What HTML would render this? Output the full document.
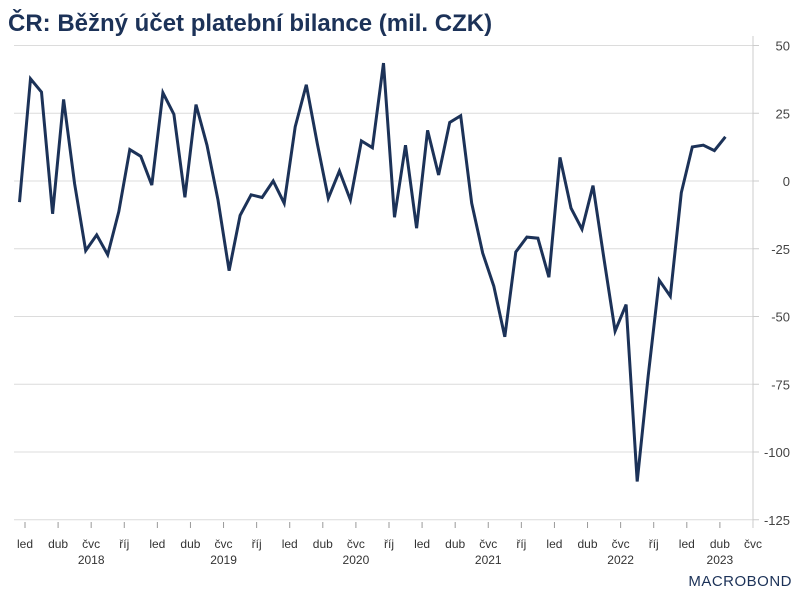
<!DOCTYPE html>
<html><head><meta charset="utf-8"><style>
body{margin:0;background:#fff;width:800px;height:600px;overflow:hidden;font-family:"Liberation Sans",sans-serif}
</style></head><body>
<svg width="800" height="600">
<text x="8" y="31" font-size="24" font-weight="bold" fill="#1c3258">ČR: Běžný účet platební bilance (mil. CZK)</text>
<g id="grid"></g><g id="xaxis"></g><g id="yaxis"></g>
<polyline id="line" fill="none" stroke="#1c3258" stroke-width="3" stroke-linejoin="miter"/>
<text x="792" y="586" font-size="15" fill="#1c3258" text-anchor="end" letter-spacing="0.5">MACROBOND</text>
</svg>
<script>
const values=[-7.8,37.7,32.8,-12.1,30.1,-1,-25.7,-19.9,-27.2,-11.3,11.6,9.1,-1.5,32.6,24.6,-6,28.2,13.2,-7,-33.1,-12.7,-5.1,-6.1,0,-8.2,20,35.5,13.8,-6.4,3.7,-7,14.8,12.3,43.5,-13.4,13.2,-17.4,18.7,2.2,21.6,24.1,-8.2,-26.6,-38.8,-57.5,-26.2,-20.7,-21.1,-35.5,8.7,-10,-17.8,-1.7,-29,-55.4,-45.6,-110.9,-71.9,-36.6,-42.5,-4.3,12.6,13.2,11.2,16.3];
const yTicks=[50,25,0,-25,-50,-75,-100,-125];
const monthLabels=["led","dub","čvc","říj"];
const years=["2018","2019","2020","2021","2022","2023"];
const yearCenters=[6,18,30,42,54,63];
const NS="http://www.w3.org/2000/svg";
const x0=25,mw=11.03;
function xPt(i){return x0+(i-0.5)*mw;}
function xTick(m){return x0+m*mw;}
function y(v){return 181-v*2.71;}
function mk(t,a,p,txt){const e=document.createElementNS(NS,t);for(const k in a)e.setAttribute(k,a[k]);if(txt!==undefined)e.textContent=txt;document.getElementById(p).appendChild(e);return e;}
yTicks.forEach(v=>{
 const g=mk('line',{x1:14,x2:753,y1:y(v),y2:y(v),stroke:'#dcdcdc','stroke-width':1},'grid');
 
 
 mk('line',{x1:753,x2:759,y1:y(v),y2:y(v),stroke:'#ccc'},'yaxis');
 const t=mk('text',{x:790,y:y(v)+5,'font-size':13,fill:'#444','text-anchor':'end'},'yaxis',String(v));
 
 
});
mk('line',{x1:753,x2:753,y1:36,y2:528,stroke:'#ccc'},'yaxis');
for(let q=0;q<=22;q++){
 const m=q*3,xx=xTick(m);
 mk('line',{x1:xx,x2:xx,y1:522,y2:528,stroke:'#999'},'xaxis');
 const t=mk('text',{x:xx,y:548,'font-size':12,fill:'#333','text-anchor':'middle'},'xaxis',monthLabels[q%4]);
 
 
}
years.forEach((yr,k)=>{
 const t=mk('text',{x:xTick(yearCenters[k]),y:564,'font-size':12,fill:'#333','text-anchor':'middle'},'xaxis',yr);
 
 
});
document.getElementById('line').setAttribute('points',values.map((v,i)=>xPt(i).toFixed(1)+','+y(v).toFixed(1)).join(' '));
</script>
</body></html>
